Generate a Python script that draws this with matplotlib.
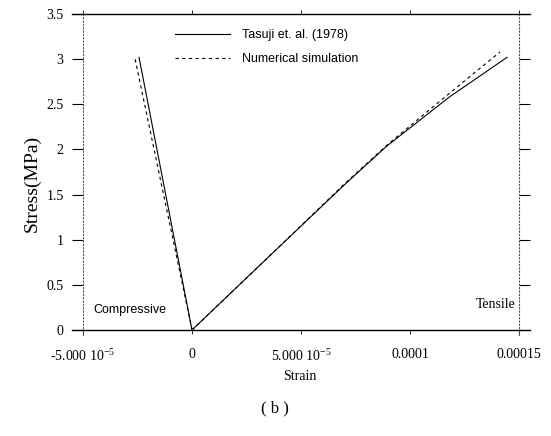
import numpy as np
import matplotlib
matplotlib.use("Agg")
import matplotlib.pyplot as plt

''' Data read off the figure '''
#   compressive branch (strain, stress)
comp_exp_strain = [0.0, -2.43e-5]
comp_exp_stress = [0.0, 3.02]
comp_num_strain = [0.0, -2.61e-5]
comp_num_stress = [0.0, 3.00]
#   tensile branch
tens_exp_strain = [0.0, 3.6e-5, 7.0e-5, 8.9e-5, 1.18e-4, 1.445e-4]
tens_exp_stress = [0.0, 0.83, 1.61, 2.03, 2.58, 3.02]
tens_num_strain = [0.0, 3.6e-5, 7.0e-5, 9.0e-5, 1.18e-4, 1.413e-4]
tens_num_stress = [0.0, 0.83, 1.62, 2.06, 2.62, 3.08]

x_ticks = [-5e-5, 0.0, 5e-5, 1e-4, 1.5e-4]
x_ticklabels = [r"-5.000 $10^{\mathrm{-5}}$", "0", r"5.000 $10^{\mathrm{-5}}$", "0.0001", "0.00015"]
y_ticks = [0, 0.5, 1, 1.5, 2, 2.5, 3, 3.5]
y_ticklabels = ["0", "0.5", "1", "1.5", "2", "2.5", "3", "3.5"]

''' Style '''
plt.rcParams["font.family"] = "Liberation Serif"
plt.rcParams["mathtext.fontset"] = "custom"
plt.rcParams["mathtext.rm"] = "Liberation Serif"
plt.rcParams["mathtext.it"] = "Liberation Serif"

fig = plt.figure(figsize=(5.51, 4.36), dpi=100)
ax = fig.add_axes([0.1307, 0.2307, 0.831, 0.7413])

''' Curves '''
ax.plot(comp_exp_strain, comp_exp_stress, color="black", lw=0.8)
ax.plot(comp_num_strain, comp_num_stress, color="black", lw=0.8, dashes=(3, 3))
l1, = ax.plot(tens_exp_strain, tens_exp_stress, color="black", lw=0.8,
              label="Tasuji et. al. (1978)")
l2, = ax.plot(tens_num_strain, tens_num_stress, color="black", lw=0.8,
              dashes=(3, 3), label="Numerical simulation")

''' Axes frame '''
ax.set_xlim(-5.505e-5, 1.55e-4)
ax.set_ylim(-0.06, 3.52)
ax.spines["left"].set_position(("data", -5e-5))
ax.spines["right"].set_position(("data", 1.5e-4))
ax.spines["bottom"].set_position(("data", 0))
ax.spines["top"].set_position(("data", 3.5))
for s in ["left", "right"]:
    ax.spines[s].set_linestyle((0, (1, 2)))
    ax.spines[s].set_linewidth(0.8)
    ax.spines[s].set_color("#555555")
for s in ["top", "bottom"]:
    ax.spines[s].set_linewidth(1.0)

ax.set_xticks(x_ticks)
ax.set_xticklabels(x_ticklabels)
ax.set_yticks(y_ticks)
ax.set_yticklabels(y_ticklabels)
ax.tick_params(axis="y", which="both", left=True, right=True, direction="out",
               length=8, width=0.8, pad=6, labelsize=10)
ax.tick_params(axis="x", which="both", bottom=True, top=True, direction="out",
               length=3, width=0.6, pad=10, labelsize=10)

''' Labels and notes '''
ax.text(-4.54e-5, 0.22, "Compressive", family="Liberation Sans", fontsize=9,
        va="center", ha="left")
ax.text(1.482e-4, 0.28, "Tensile", fontsize=10, va="center", ha="right")
fig.text(32 / 551, 1 - 183 / 436, "Stress(MPa)", rotation=90, fontsize=14,
         ha="center", va="center")
fig.text(300 / 551, 1 - 376 / 436, "Strain", fontsize=10, ha="center", va="center")
fig.text(275 / 551, 1 - 408 / 436, "( b )", fontsize=12, ha="center", va="center")

fig.legend(handles=[l1, l2], loc="upper left",
           bbox_to_anchor=(175 / 551, 1 - 29 / 436), frameon=False,
           prop={"family": "Liberation Sans", "size": 9},
           handlelength=4.4, handletextpad=1.0, labelspacing=1.0,
           borderpad=0, borderaxespad=0)

plt.savefig("out.png", dpi=100)
